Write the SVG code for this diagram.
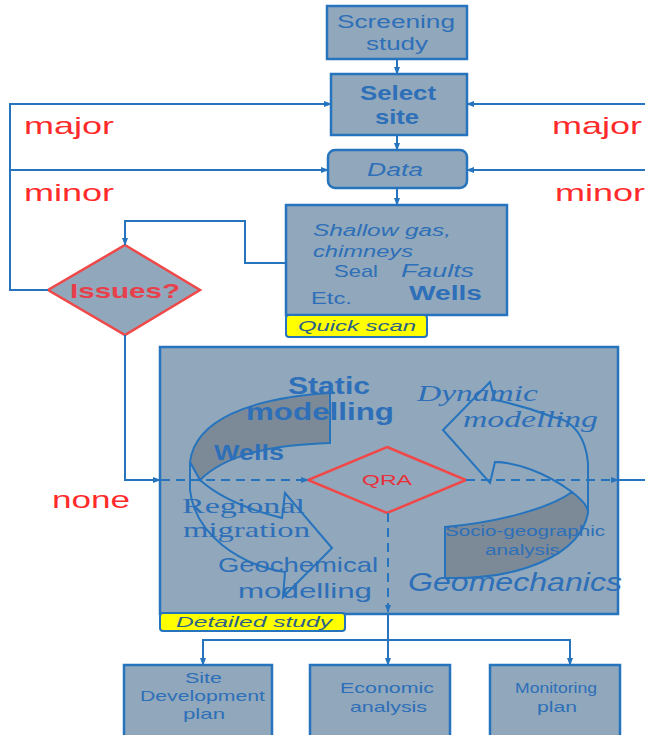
<svg xmlns="http://www.w3.org/2000/svg" width="645" height="735" viewBox="0 0 645 735">
<defs>
<marker id="ah" markerWidth="8" markerHeight="8" refX="7" refY="4" orient="auto" markerUnits="userSpaceOnUse">
<path d="M0,1 L8,4 L0,7 Z" fill="#2574bd"/>
</marker>
<style>
.box{fill:#91a7bb;stroke:#2574bd;stroke-width:2.5}
.ln{fill:none;stroke:#2574bd;stroke-width:2}
.dash{fill:none;stroke:#2574bd;stroke-width:2;stroke-dasharray:9 6}
.t{font-family:"Liberation Sans",Arial,sans-serif;fill:#2d6fb8}
.red{font-family:"Liberation Sans",Arial,sans-serif;fill:#ff2a2a;font-size:24px}
.lab{fill:#ffff00;stroke:#2574bd;stroke-width:2}
.labt{font-family:"Liberation Sans",Arial,sans-serif;font-style:italic;font-size:14px;fill:#2b5f8a}
.ser{font-family:"Liberation Serif","Times New Roman",serif;fill:#2d6fb8}
.arr{fill:none;stroke:#2574bd;stroke-width:2}
.shade{fill:#7c8a98;stroke:#2574bd;stroke-width:2}
</style>
</defs>
<rect width="645" height="735" fill="#ffffff"/>

<g id="screening">
<rect class="box" x="327" y="6" width="140" height="53"/>
<text class="t" x="337" y="28" font-size="18" textLength="118" lengthAdjust="spacingAndGlyphs">Screening</text>
<text class="t" x="366" y="50" font-size="18" textLength="62" lengthAdjust="spacingAndGlyphs">study</text>
</g>

<g id="select">
<rect class="box" x="331" y="74" width="136" height="61"/>
<text class="t" x="360" y="100" font-size="20" font-weight="bold" textLength="76" lengthAdjust="spacingAndGlyphs">Select</text>
<text class="t" x="375" y="124" font-size="20" font-weight="bold" textLength="44" lengthAdjust="spacingAndGlyphs">site</text>
</g>

<g id="data">
<rect class="box" x="328" y="150" width="139" height="38" rx="7"/>
<text class="t" x="367" y="176" font-size="18" font-style="italic" textLength="56" lengthAdjust="spacingAndGlyphs">Data</text>
</g>

<g id="quickscan">
<rect class="box" x="286" y="205" width="221" height="110"/>
<text class="t" x="313" y="236" font-size="16" font-style="italic" textLength="138" lengthAdjust="spacingAndGlyphs">Shallow gas,</text>
<text class="t" x="313" y="257" font-size="16" font-style="italic" textLength="100" lengthAdjust="spacingAndGlyphs">chimneys</text>
<text class="t" x="334" y="277" font-size="17" textLength="44" lengthAdjust="spacingAndGlyphs">Seal</text>
<text class="t" x="401" y="277" font-size="18" font-style="italic" textLength="73" lengthAdjust="spacingAndGlyphs">Faults</text>
<text class="t" x="311" y="304" font-size="17" textLength="41" lengthAdjust="spacingAndGlyphs">Etc.</text>
<text class="t" x="409" y="300" font-size="20" font-weight="bold" textLength="73" lengthAdjust="spacingAndGlyphs">Wells</text>
<rect class="lab" x="286" y="315" width="141" height="22" rx="3"/>
<text class="labt" x="298" y="331" textLength="118" lengthAdjust="spacingAndGlyphs">Quick scan</text>
</g>

<g id="issues">
<polygon points="125,245 200,290 125,335 48,290" fill="#91a7bb" stroke="#f04848" stroke-width="2.5"/>
<text x="70" y="298" font-family="Liberation Sans,Arial,sans-serif" font-size="21" font-weight="bold" fill="#e8404a" textLength="110" lengthAdjust="spacingAndGlyphs">Issues?</text>
</g>

<g id="labels">
<text class="red" x="24" y="134" textLength="90" lengthAdjust="spacingAndGlyphs">major</text>
<text class="red" x="24" y="201" textLength="90" lengthAdjust="spacingAndGlyphs">minor</text>
<text class="red" x="552" y="134" textLength="90" lengthAdjust="spacingAndGlyphs">major</text>
<text class="red" x="555" y="201" textLength="90" lengthAdjust="spacingAndGlyphs">minor</text>
<text class="red" x="52" y="508" textLength="78" lengthAdjust="spacingAndGlyphs">none</text>
</g>

<g id="detailed">
<rect class="box" x="160" y="347" width="458" height="267"/>
<!-- left cycle arrow -->
<path class="shade" d="M330,393 L330,443 C270,445 225,455 200,480 L190,462 C195,420 250,398 330,393 Z"/>
<path class="arr" d="M190,462 L190,490 C195,535 240,565 285,572 L283,597 L332,548 L285,493 L282,518 C250,510 220,498 200,480"/>
<!-- right cycle arrow -->
<path class="shade" d="M445,527 C500,522 550,508 572,492 C582,500 588,506 588,513 C580,555 520,580 445,578 Z"/>
<path class="arr" d="M588,513 L588,463 C586,440 575,420 553,417 C535,410 515,404 495,400 L490,382 L443,430 L490,483 L495,462 C515,462 545,472 572,492"/>
<text class="t" x="288" y="394" font-size="24" font-weight="bold" textLength="82" lengthAdjust="spacingAndGlyphs">Static</text>
<text class="t" x="246" y="420" font-size="24" font-weight="bold" textLength="148" lengthAdjust="spacingAndGlyphs">modelling</text>
<text class="ser" x="417" y="401" font-size="24" font-style="italic" textLength="121" lengthAdjust="spacingAndGlyphs">Dynamic</text>
<text class="ser" x="463" y="427" font-size="24" font-style="italic" textLength="135" lengthAdjust="spacingAndGlyphs">modelling</text>
<text class="t" x="214" y="460" font-size="22" font-weight="bold" textLength="70" lengthAdjust="spacingAndGlyphs">Wells</text>
<polygon points="387,447 466,480 387,513 308,480" fill="#91a7bb" stroke="#f04848" stroke-width="2.5"/>
<text x="362" y="485" font-family="Liberation Sans,Arial,sans-serif" font-size="15" fill="#e8303a" textLength="50" lengthAdjust="spacingAndGlyphs">QRA</text>
<text class="ser" x="182" y="513" font-size="22" textLength="123" lengthAdjust="spacingAndGlyphs">Regional</text>
<text class="ser" x="183" y="537" font-size="22" textLength="127" lengthAdjust="spacingAndGlyphs">migration</text>
<text class="t" x="218" y="572" font-size="21" textLength="160" lengthAdjust="spacingAndGlyphs">Geochemical</text>
<text class="t" x="238" y="598" font-size="21" textLength="134" lengthAdjust="spacingAndGlyphs">modelling</text>
<text class="t" x="445" y="536" font-size="14" textLength="160" lengthAdjust="spacingAndGlyphs">Socio-geographic</text>
<text class="t" x="485" y="555" font-size="14" textLength="75" lengthAdjust="spacingAndGlyphs">analysis</text>
<text class="t" x="408" y="591" font-size="25" font-style="italic" textLength="214" lengthAdjust="spacingAndGlyphs">Geomechanics</text>
<rect class="lab" x="160" y="613" width="185" height="18" rx="3"/>
<text class="labt" x="176" y="627" textLength="156" lengthAdjust="spacingAndGlyphs">Detailed study</text>
</g>

<g id="sitedev">
<rect class="box" x="124" y="665" width="148" height="72"/>
<text class="t" x="185" y="683" font-size="15" textLength="37" lengthAdjust="spacingAndGlyphs">Site</text>
<text class="t" x="140" y="701" font-size="15" textLength="125" lengthAdjust="spacingAndGlyphs">Development</text>
<text class="t" x="183" y="719" font-size="15" textLength="42" lengthAdjust="spacingAndGlyphs">plan</text>
</g>

<g id="economic">
<rect class="box" x="310" y="665" width="140" height="72"/>
<text class="t" x="340" y="693" font-size="15" textLength="94" lengthAdjust="spacingAndGlyphs">Economic</text>
<text class="t" x="350" y="712" font-size="15" textLength="77" lengthAdjust="spacingAndGlyphs">analysis</text>
</g>

<g id="monitoring">
<rect class="box" x="490" y="665" width="130" height="72"/>
<text class="t" x="515" y="693" font-size="15" textLength="82" lengthAdjust="spacingAndGlyphs">Monitoring</text>
<text class="t" x="537" y="712" font-size="15" textLength="40" lengthAdjust="spacingAndGlyphs">plan</text>
</g>

<g id="connectors">
<line class="ln" x1="397" y1="59" x2="397" y2="74" marker-end="url(#ah)"/>
<line class="ln" x1="397" y1="135" x2="397" y2="150" marker-end="url(#ah)"/>
<line class="ln" x1="397" y1="188" x2="397" y2="205" marker-end="url(#ah)"/>
<polyline class="ln" points="48,290 10,290 10,104 331,104" marker-end="url(#ah)"/>
<line class="ln" x1="10" y1="170" x2="328" y2="170" marker-end="url(#ah)"/>
<polyline class="ln" points="645,104 467,104" marker-end="url(#ah)"/>
<polyline class="ln" points="645,170 467,170" marker-end="url(#ah)"/>
<polyline class="ln" points="286,263 245,263 245,221 125,221 125,245" marker-end="url(#ah)"/>
<polyline class="ln" points="125,335 125,480 160,480" marker-end="url(#ah)"/>
<line class="dash" x1="161" y1="480" x2="308" y2="480" marker-end="url(#ah)"/>
<line class="dash" x1="466" y1="480" x2="618" y2="480" marker-end="url(#ah)"/>
<line class="ln" x1="618" y1="480" x2="645" y2="480"/>
<line class="dash" x1="388" y1="513" x2="388" y2="612" marker-end="url(#ah)"/>
<line class="ln" x1="388" y1="614" x2="388" y2="665" marker-end="url(#ah)"/>
<polyline class="ln" points="203,665 203,640 570,640 570,665" marker-end="url(#ah)"/>
<line class="ln" x1="203" y1="650" x2="203" y2="665" marker-end="url(#ah)"/>
</g>
</svg>
